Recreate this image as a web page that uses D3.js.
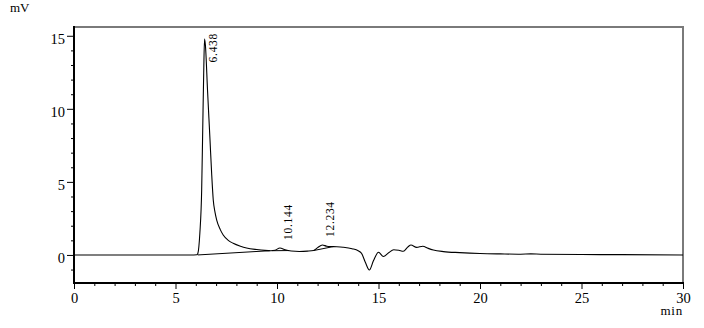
<!DOCTYPE html>
<html>
<head>
<meta charset="utf-8">
<script src="https://cdn.jsdelivr.net/npm/d3@7/dist/d3.min.js"></script>
<style>
  html, body { margin: 0; padding: 0; background: #fff; }
  svg { display: block; }
  text { font-family: "Liberation Serif", "DejaVu Serif", serif; fill: #000; }
</style>
</head>
<body>
<svg id="chart" width="704" height="328"></svg>
<script>
// ---- data ----
const signalTime = [0, 3, 5.9, 6.05, 6.1, 6.2, 6.29, 6.34, 6.39, 6.43, 6.47, 6.58, 6.7, 6.78, 6.86, 6.95, 7.03, 7.2, 7.35, 7.6, 7.84, 8.2, 8.5, 9.0, 9.4, 9.7, 9.9, 10.144, 10.4, 10.7, 11.1, 11.5, 11.8, 12.0, 12.234, 12.45, 12.77, 13.25, 13.7, 14.0, 14.17, 14.35, 14.55, 14.75, 15.0, 15.24, 15.5, 15.75, 16.0, 16.22, 16.45, 16.6, 16.88, 17.18, 17.45, 17.7, 18.2, 19.0, 20.0, 21.0, 22.0, 22.5, 23.0, 25.0, 27.0, 30.0];
const signalMV   = [0, 0, 0, 0.01, 0.1, 1.5, 4.5, 8.5, 12.5, 14.77, 14.4, 11.2, 7.87, 5.6, 3.76, 2.9, 2.39, 1.75, 1.37, 1.0, 0.8, 0.6, 0.48, 0.37, 0.31, 0.29, 0.32, 0.48, 0.35, 0.27, 0.24, 0.26, 0.3, 0.5, 0.68, 0.6, 0.57, 0.53, 0.43, 0.29, 0.1, -0.5, -1.03, -0.4, 0.18, -0.11, 0.15, 0.36, 0.32, 0.25, 0.55, 0.68, 0.52, 0.6, 0.45, 0.34, 0.23, 0.16, 0.1, 0.07, 0.05, 0.07, 0.05, 0.03, 0.02, 0.0];

const peakTimes   = [6.438, 10.144, 12.234];
const peakLabels  = ["6.438", "10.144", "12.234"];
const peakHeights = [14.77, 0.48, 0.68];

// integration baselines: start time/mV, end time/mV
const baseStartT = [6.1, 9.75, 11.8];
const baseStartV = [0.0, 0.29, 0.30];
const baseEndT   = [9.65, 10.6, 12.77];
const baseEndV   = [0.29, 0.30, 0.57];

const xMajorTicks = [0, 5, 10, 15, 20, 25, 30];
const yMajorTicks = [0, 5, 10, 15];
const xUnit = "min";
const yUnit = "mV";

// ---- layout ----
const mLeft = 74, mRight = 683, mTop = 27, mBottom = 283;

const x = d3.scaleLinear().domain([0, 30]).range([mLeft, mRight]);
const y = d3.scaleLinear().domain([-1.92, 15.6]).range([mBottom, mTop]);

const svg = d3.select("#chart");

// frame: top and right gray
svg.append("line").attr("x1", mLeft).attr("x2", mRight + 1).attr("y1", mTop).attr("y2", mTop)
  .attr("stroke", "#7a7a7a").attr("stroke-width", 2);
svg.append("line").attr("x1", mRight).attr("x2", mRight).attr("y1", mTop).attr("y2", mBottom)
  .attr("stroke", "#7a7a7a").attr("stroke-width", 2);

// x axis
const xMinor = d3.range(0, 31, 1).filter(v => !xMajorTicks.includes(v));
svg.append("g").attr("transform", `translate(0,${mBottom})`)
  .call(d3.axisBottom(x).tickValues(xMinor).tickSize(3).tickFormat(""))
  .call(g => g.select(".domain").remove())
  .call(g => g.selectAll("line").attr("stroke", "#000"));
svg.append("g").attr("transform", `translate(0,${mBottom})`)
  .call(d3.axisBottom(x).tickValues(xMajorTicks).tickSize(6).tickPadding(4).tickFormat(d3.format("d")))
  .call(g => g.select(".domain").remove())
  .call(g => g.selectAll("line").attr("stroke", "#000"))
  .call(g => g.selectAll("text").attr("font-size", 14.5).attr("font-family", '"Liberation Serif", serif').attr("fill", "#000"));

// y axis
const yMinor = d3.range(-1, 16, 1).filter(v => !yMajorTicks.includes(v));
svg.append("g").attr("transform", `translate(${mLeft},0)`)
  .call(d3.axisLeft(y).tickValues(yMinor).tickSize(3).tickFormat(""))
  .call(g => g.select(".domain").remove())
  .call(g => g.selectAll("line").attr("stroke", "#000"));
svg.append("g").attr("transform", `translate(${mLeft},0)`)
  .call(d3.axisLeft(y).tickValues(yMajorTicks).tickSize(7).tickPadding(2).tickFormat(d3.format("d")))
  .call(g => g.select(".domain").remove())
  .call(g => g.selectAll("line").attr("stroke", "#000"))
  .call(g => g.selectAll("text").attr("font-size", 14.5).attr("dy", "0.5em").attr("font-family", '"Liberation Serif", serif').attr("fill", "#000"));

// axis lines (black, thicker)
svg.append("line").attr("x1", mLeft).attr("x2", mLeft).attr("y1", mTop - 1).attr("y2", mBottom + 1)
  .attr("stroke", "#000").attr("stroke-width", 2);
svg.append("line").attr("x1", mLeft - 1).attr("x2", mRight + 1).attr("y1", mBottom).attr("y2", mBottom)
  .attr("stroke", "#000").attr("stroke-width", 2);

// baselines
svg.append("g").selectAll("line").data(baseStartT).join("line")
  .attr("x1", d => x(d)).attr("y1", (d, i) => y(baseStartV[i]))
  .attr("x2", (d, i) => x(baseEndT[i])).attr("y2", (d, i) => y(baseEndV[i]))
  .attr("stroke", "#000").attr("stroke-width", 1);

// signal
const pts = signalTime.map((t, i) => [t, signalMV[i]]);
svg.append("path").datum(pts)
  .attr("fill", "none").attr("stroke", "#000").attr("stroke-width", 1.1)
  .attr("d", d3.line().x(d => x(d[0])).y(d => y(d[1])).curve(d3.curveMonotoneX));

// peak labels
peakTimes.forEach((t, i) => {
  const tx = svg.append("text").attr("font-size", 11.5).attr("letter-spacing", 0.7).text(peakLabels[i]);
  const len = tx.node().getComputedTextLength();
  const ay = Math.max(y(peakHeights[i]) - 8, mTop + 6 + len);
  const ax = x(t) + 12;
  tx.attr("transform", `translate(${ax},${ay}) rotate(-90)`).attr("text-anchor", "start");
});

// unit labels
svg.append("text").attr("x", 10).attr("y", 12).attr("font-size", 13).text(yUnit);
svg.append("text").attr("x", mRight).attr("y", 315).attr("text-anchor", "end").attr("font-size", 13).attr("letter-spacing", 0.8).text(xUnit);
</script>
</body>
</html>
